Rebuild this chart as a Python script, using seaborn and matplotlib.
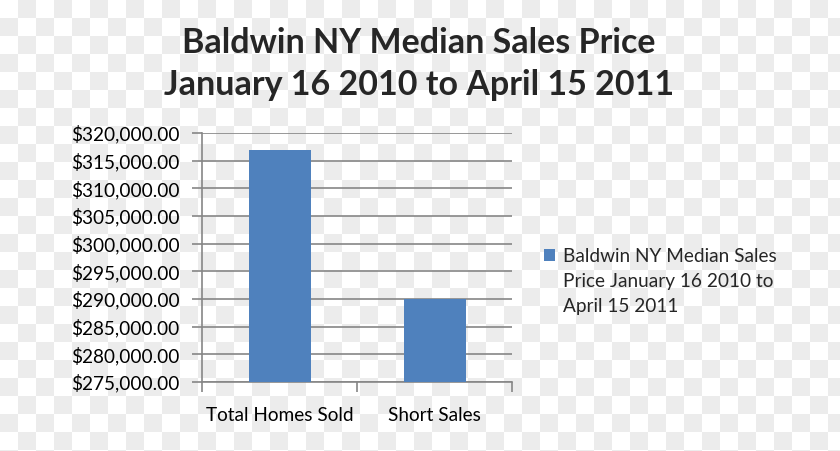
import numpy as np
import pandas as pd
import matplotlib
matplotlib.use("Agg")
import matplotlib.pyplot as plt
from matplotlib.ticker import FuncFormatter, FixedLocator
from matplotlib.patches import Patch
import seaborn as sns

categories = ["Total Homes Sold", "Short Sales"]
values = [317000, 290000]
series_name = "Baldwin NY Median Sales Price January 16 2010 to April 15 2011"
legend_lines = ["Baldwin NY Median Sales", "Price January 16 2010 to", "April 15 2011"]
title_lines = ["Baldwin NY Median Sales Price", "January 16 2010 to April 15 2011"]
y_ticks = [275000, 280000, 285000, 290000, 295000, 300000, 305000, 310000, 315000, 320000]

sns.set_theme(style="white")
plt.rcParams['font.family'] = ['Lato', 'DejaVu Sans']

W, H = 840, 451
fig = plt.figure(figsize=(W / 100, H / 100), dpi=100)

# checkerboard background
bg = fig.add_axes([0, 0, 1, 1], zorder=-10)
cell = 18
ny, nx = int(np.ceil(H / cell)), int(np.ceil(W / cell))
ii, jj = np.indices((ny, nx))
board = np.where((ii + jj) % 2 == 0, 1.0, 0.922)
bg.imshow(board, cmap="gray", vmin=0, vmax=1, extent=[0, nx * cell, ny * cell, 0],
          interpolation="nearest", aspect="auto")
bg.set_xlim(0, W)
bg.set_ylim(H, 0)
bg.axis("off")

ax = fig.add_axes([202 / W, (H - 382) / H, 310 / W, 249 / H])
ax.patch.set_alpha(0)

df = pd.DataFrame({"cat": categories, "val": values, "series": [series_name] * len(values)})
sns.barplot(data=df, x="cat", y="val", hue="series", palette=["#4f81bd"], width=0.4,
            dodge=False, ax=ax, legend=False, zorder=3, saturation=1, linewidth=0)

FS = 13.7
ax.set_ylim(y_ticks[0], y_ticks[-1])
ax.set_xlim(-0.5, len(categories) - 0.5)
ax.yaxis.set_major_locator(FixedLocator(y_ticks))
ax.yaxis.set_major_formatter(FuncFormatter(lambda v, p: f"${v:,.2f}"))
ax.grid(axis="y", color="#868686", linewidth=1.2, zorder=0)
ax.set_axisbelow(True)
for s in ["top", "right"]:
    ax.spines[s].set_visible(False)
for s in ["left", "bottom"]:
    ax.spines[s].set_color("#868686")
    ax.spines[s].set_linewidth(1.2)
ax.tick_params(axis="y", which="major", length=7, width=1.2, color="#868686",
               labelsize=FS, labelcolor="black", pad=9, left=True, direction="out")
ax.xaxis.set_minor_locator(FixedLocator([-0.5, 0.5, 1.5]))
ax.tick_params(axis="x", which="major", length=0, labelsize=FS, labelcolor="black", pad=18)
ax.tick_params(axis="x", which="minor", length=7, width=1.2, color="#868686", bottom=True, direction="out")
ax.set_xlabel("")
ax.set_ylabel("")

fig.text(419 / W, 1 - 43 / H, title_lines[0], ha="center", va="center",
         fontsize=24.5, fontweight="bold")
fig.text(419 / W, 1 - 85 / H, title_lines[1], ha="center", va="center",
         fontsize=24.5, fontweight="bold")

handles = [Patch(facecolor="#4f81bd", edgecolor="none"),
           Patch(facecolor="none", edgecolor="none"),
           Patch(facecolor="none", edgecolor="none")]
fig.legend(handles, legend_lines,
           loc="upper left", bbox_to_anchor=(544 / W, 1 - 248 / H), frameon=False,
           fontsize=FS, handlelength=0.6, handleheight=0.6, handletextpad=0.38,
           labelspacing=0.43, borderaxespad=0, borderpad=0)

fig.savefig("out.png", dpi=100)
